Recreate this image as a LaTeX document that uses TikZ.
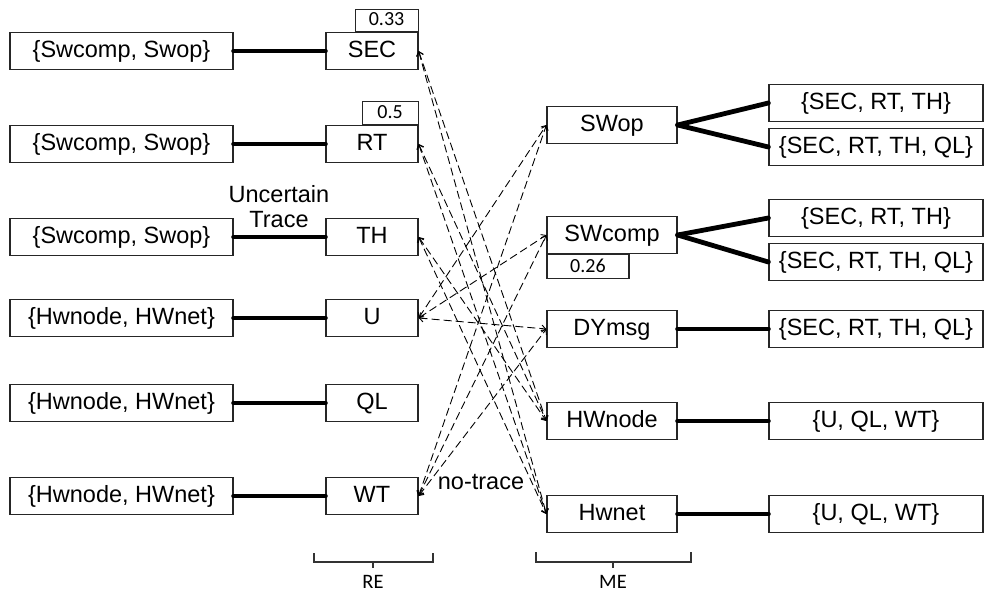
\documentclass[tikz,border=0pt]{standalone}
\usepackage{fontspec}
\setmainfont{Liberation Sans}
\newfontfamily\numfont{Carlito}
\usetikzlibrary{arrows.meta}
\begin{document}
\begin{tikzpicture}[x=1pt,y=-1pt,
  box/.style={draw=black!85,line width=1.2pt,fill=white,minimum height=37pt,
    inner sep=0pt,text height=17pt,text depth=4pt,font=\fontsize{23.5}{26}\selectfont},
  setbox/.style={box,minimum width=223pt},
  rebox/.style={box,minimum width=92pt},
  mebox/.style={box,minimum width=130pt},
  outbox/.style={box,minimum width=214pt},
  valbox/.style={draw=black!85,line width=1.1pt,fill=white,inner sep=0pt,
    text height=13pt,text depth=2pt,font=\numfont\fontsize{20}{22}\selectfont},
  link/.style={line width=4.8pt,line cap=round},
  trace/.style={line width=0.9pt,dash pattern=on 8pt off 4pt,
    {Straight Barb[length=4pt,width=7pt]}-{Straight Barb[length=4pt,width=7pt]}},
  brace/.style={line width=1.3pt,black!80},
  bracelabel/.style={font=\numfont\fontsize{20.5}{22}\selectfont}]
\useasboundingbox (0,0) rectangle (985,593);

% requirement sets (left)
\node[setbox] (s1) at (121.5,51) {\{Swcomp, Swop\}};
\node[setbox] (s2) at (121.5,144) {\{Swcomp, Swop\}};
\node[setbox] (s3) at (121.5,237) {\{Swcomp, Swop\}};
\node[setbox] (s4) at (121.5,318) {\{Hwnode, HWnet\}};
\node[setbox] (s5) at (121.5,403) {\{Hwnode, HWnet\}};
\node[setbox] (s6) at (121.5,496) {\{Hwnode, HWnet\}};

% requirement elements
\node[rebox] (sec) at (372,51) {SEC};
\node[rebox] (rt) at (372,144) {RT};
\node[rebox] (th) at (372,237) {TH};
\node[rebox] (u) at (372,318) {U};
\node[rebox] (ql) at (372,403) {QL};
\node[rebox] (wt) at (372,496) {WT};

\node[valbox,minimum width=63pt,minimum height=22pt,anchor=south east] (v33) at (sec.north east) {0.33};
\node[valbox,minimum width=56pt,minimum height=23pt,anchor=south east] (v5) at (rt.north east) {0.5};

% model elements
\node[mebox] (swop) at (612,125) {SWop};
\node[mebox] (swcomp) at (612,235) {SWcomp};
\node[mebox] (dymsg) at (612,329) {DYmsg};
\node[mebox] (hwnode) at (612,421) {HWnode};
\node[mebox] (hwnet) at (612,514) {Hwnet};

\node[valbox,minimum width=82pt,minimum height=24pt,anchor=north west] (v26) at (swcomp.south west) {0.26};

% element sets (right)
\node[outbox] (o1) at (876,103) {\{SEC, RT, TH\}};
\node[outbox] (o2) at (876,147) {\{SEC, RT, TH, QL\}};
\node[outbox] (o3) at (876,218) {\{SEC, RT, TH\}};
\node[outbox] (o4) at (876,262) {\{SEC, RT, TH, QL\}};
\node[outbox] (o5) at (876,329) {\{SEC, RT, TH, QL\}};
\node[outbox] (o6) at (876,421) {\{U, QL, WT\}};
\node[outbox] (o7) at (876,514) {\{U, QL, WT\}};

% solid links
\draw[link] (s1.east) -- (sec.west);
\draw[link] (s2.east) -- (rt.west);
\draw[link] (s3.east) -- (th.west);
\draw[link] (s4.east) -- (u.west);
\draw[link] (s5.east) -- (ql.west);
\draw[link] (s6.east) -- (wt.west);
\draw[link] (swop.east) -- (o1.west);
\draw[link] (swop.east) -- (o2.west);
\draw[link] (swcomp.east) -- (o3.west);
\draw[link] (swcomp.east) -- (o4.west);
\draw[link] (dymsg.east) -- (o5.west);
\draw[link] (hwnode.east) -- (o6.west);
\draw[link] (hwnet.east) -- (o7.west);

% trace links
\foreach \r in {sec,rt,th}{
  \draw[trace] (\r.east) -- (hwnode.west);
  \draw[trace] (\r.east) -- (hwnet.west);
}
\foreach \r in {u,wt}{
  \draw[trace] (\r.east) -- (swop.west);
  \draw[trace] (\r.east) -- (swcomp.west);
  \draw[trace] (\r.east) -- (dymsg.west);
}

% annotations
\node[align=center,inner sep=0pt,font=\fontsize{23.5}{25}\selectfont] (unc) at (279,207) {Uncertain\\Trace};
\node[inner sep=0pt,font=\fontsize{23.5}{26}\selectfont] (nt) at (481,482) {no-trace};

% group brackets
\draw[brace] (314,553) -- (314,562) -- (433,562) -- (433,553);
\draw[brace] (373,562) -- (373,568);
\node[bracelabel] (re) at (373,582) {RE};
\draw[brace] (536,552) -- (536,562) -- (691,562) -- (691,552);
\draw[brace] (613,562) -- (613,568);
\node[bracelabel] (me) at (613,582) {ME};
\end{tikzpicture}
\end{document}
